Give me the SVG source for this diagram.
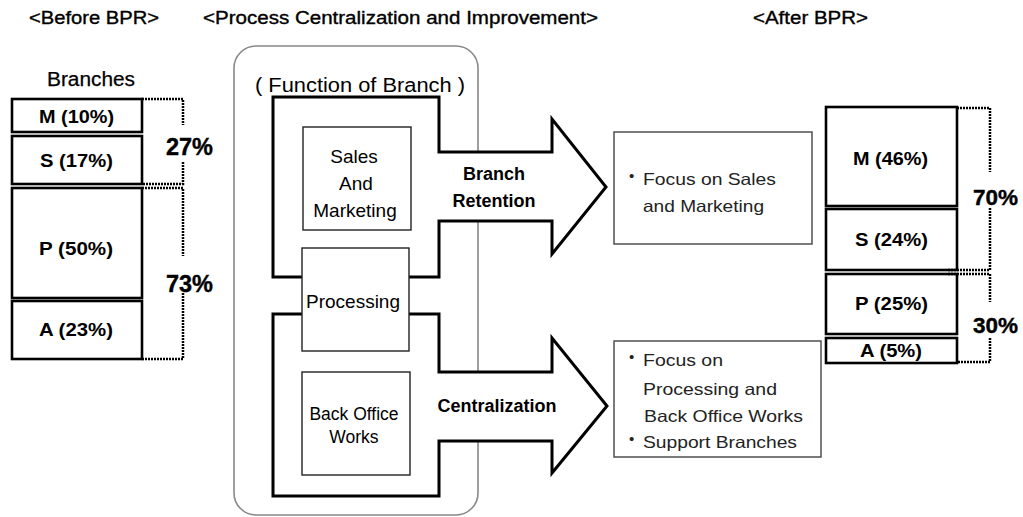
<svg xmlns="http://www.w3.org/2000/svg" width="1023" height="517" viewBox="0 0 1023 517">
  <style>
    text { font-family: "Liberation Sans", Arial, sans-serif; fill: #000; }
    .head { font-size: 17.5px; stroke: #000; stroke-width: 0.35; }
    .lbl { font-size: 18px; font-weight: bold; }
    .pct { font-size: 23px; font-weight: bold; stroke: #000; stroke-width: 0.4; }
    .fn { font-size: 19px; }
    .flow { font-size: 18px; font-weight: bold; }
    .note { font-size: 16.5px; fill: #222; }
    .bul { font-size: 15px; fill: #222; }
    .bar { fill: #fff; stroke: #000; stroke-width: 2.6; }
    .fbox { fill: #fff; stroke: #222; stroke-width: 1.4; }
    .nbox { fill: #fff; stroke: #444; stroke-width: 1.4; }
    .thick { fill: #fff; stroke: #000; stroke-width: 3; stroke-linejoin: miter; }
    .dot { fill: none; stroke: #000; stroke-width: 2.5; stroke-dasharray: 2 1; }
  </style>

  <!-- section headings -->
  <g id="headings">
    <text class="head" x="29" y="24" textLength="130" lengthAdjust="spacingAndGlyphs">&lt;Before BPR&gt;</text>
    <text class="head" x="203" y="24" textLength="395" lengthAdjust="spacingAndGlyphs">&lt;Process Centralization and Improvement&gt;</text>
    <text class="head" x="753" y="24" textLength="115" lengthAdjust="spacingAndGlyphs">&lt;After BPR&gt;</text>
  </g>

  <!-- branch workload before -->
  <g id="before">
    <text x="47" y="86" style="font-size:19.5px;stroke:#000;stroke-width:0.25" textLength="88" lengthAdjust="spacingAndGlyphs">Branches</text>
    <rect class="bar" x="12" y="99" width="130" height="33"/>
    <rect class="bar" x="12" y="136" width="130" height="48"/>
    <rect class="bar" x="12" y="188" width="130" height="110"/>
    <rect class="bar" x="12" y="301" width="130" height="58"/>
    <text class="lbl" x="39" y="123" textLength="75" lengthAdjust="spacingAndGlyphs">M (10%)</text>
    <text class="lbl" x="40" y="167" textLength="73" lengthAdjust="spacingAndGlyphs">S (17%)</text>
    <text class="lbl" x="39" y="255" textLength="74" lengthAdjust="spacingAndGlyphs">P (50%)</text>
    <text class="lbl" x="39" y="336" textLength="74" lengthAdjust="spacingAndGlyphs">A (23%)</text>
    <path class="dot" d="M142,99 H183 V125 M183,162 V184 H142"/>
    <path class="dot" d="M142,188 H183 V256 M183,293 V359 H142"/>
    <text class="pct" x="166" y="155" textLength="47" lengthAdjust="spacingAndGlyphs">27%</text>
    <text class="pct" x="166" y="292" textLength="47" lengthAdjust="spacingAndGlyphs">73%</text>
  </g>

  <!-- branch function panel -->
  <g id="panel">
    <rect x="234" y="46" width="244" height="469" rx="22" ry="22" fill="#fff" stroke="#888" stroke-width="1.6"/>
    <text x="255" y="92" style="font-size:20px" textLength="210" lengthAdjust="spacingAndGlyphs">( Function of Branch )</text>
  </g>

  <!-- block arrows -->
  <g id="connectors">
    <path class="thick" d="M273,97 H439 V152 H552 V119 L606,187 L552,254 V221 H439 V277 H273 Z"/>
    <path class="thick" d="M273,314 H439 V372 H552 V338 L607,406 L552,473 V441 H439 V496 H273 Z"/>
    <text class="flow" x="494" y="180" text-anchor="middle">Branch</text>
    <text class="flow" x="494" y="207" text-anchor="middle">Retention</text>
    <text class="flow" x="497" y="412" text-anchor="middle">Centralization</text>
  </g>

  <g id="sales">
    <rect class="fbox" x="303" y="127" width="108" height="103"/>
    <text class="fn" x="354" y="163" text-anchor="middle">Sales</text>
    <text class="fn" x="356" y="190" text-anchor="middle">And</text>
    <text class="fn" x="355" y="217" text-anchor="middle">Marketing</text>
  </g>

  <g id="processing">
    <rect class="fbox" x="302" y="248" width="107" height="103"/>
    <text class="fn" x="353" y="308" text-anchor="middle">Processing</text>
  </g>

  <g id="backoffice">
    <rect class="fbox" x="302" y="372" width="108" height="103"/>
    <text x="354" y="420" text-anchor="middle" style="font-size:17.5px">Back Office</text>
    <text x="354" y="443" text-anchor="middle" style="font-size:17.5px">Works</text>
  </g>

  <!-- outcome notes -->
  <g id="note-sales">
    <rect class="nbox" x="614" y="132" width="198" height="112"/>
    <text class="bul" x="629" y="181">•</text>
    <text class="note" x="643" y="185" textLength="133" lengthAdjust="spacingAndGlyphs">Focus on Sales</text>
    <text class="note" x="643" y="212" textLength="121" lengthAdjust="spacingAndGlyphs">and Marketing</text>
  </g>

  <g id="note-central">
    <rect class="nbox" x="614" y="341" width="207" height="116"/>
    <text class="bul" x="629" y="362">•</text>
    <text class="note" x="643" y="366" textLength="80" lengthAdjust="spacingAndGlyphs">Focus on</text>
    <text class="note" x="643" y="395" textLength="134" lengthAdjust="spacingAndGlyphs">Processing and</text>
    <text class="note" x="644" y="422" textLength="159" lengthAdjust="spacingAndGlyphs">Back Office Works</text>
    <text class="bul" x="629" y="444">•</text>
    <text class="note" x="643" y="448" textLength="154" lengthAdjust="spacingAndGlyphs">Support Branches</text>
  </g>

  <!-- branch workload after -->
  <g id="after">
    <rect class="bar" x="826" y="107" width="131" height="99"/>
    <rect class="bar" x="826" y="209" width="131" height="61"/>
    <rect class="bar" x="826" y="274" width="131" height="60"/>
    <rect class="bar" x="826" y="338" width="131" height="25"/>
    <text class="lbl" x="853" y="165" textLength="75" lengthAdjust="spacingAndGlyphs">M (46%)</text>
    <text class="lbl" x="855" y="246" textLength="73" lengthAdjust="spacingAndGlyphs">S (24%)</text>
    <text class="lbl" x="855" y="310" textLength="73" lengthAdjust="spacingAndGlyphs">P (25%)</text>
    <text class="lbl" x="860" y="357" textLength="62" lengthAdjust="spacingAndGlyphs">A (5%)</text>
    <path class="dot" d="M957,108 H990 V172 M990,208 V270 H948"/>
    <path class="dot" d="M948,274 H990 V302 M990,338 V362 H957"/>
    <text class="pct" x="973" y="205" style="font-size:22px" textLength="45" lengthAdjust="spacingAndGlyphs">70%</text>
    <text class="pct" x="973" y="333" style="font-size:22px" textLength="45" lengthAdjust="spacingAndGlyphs">30%</text>
  </g>
</svg>
